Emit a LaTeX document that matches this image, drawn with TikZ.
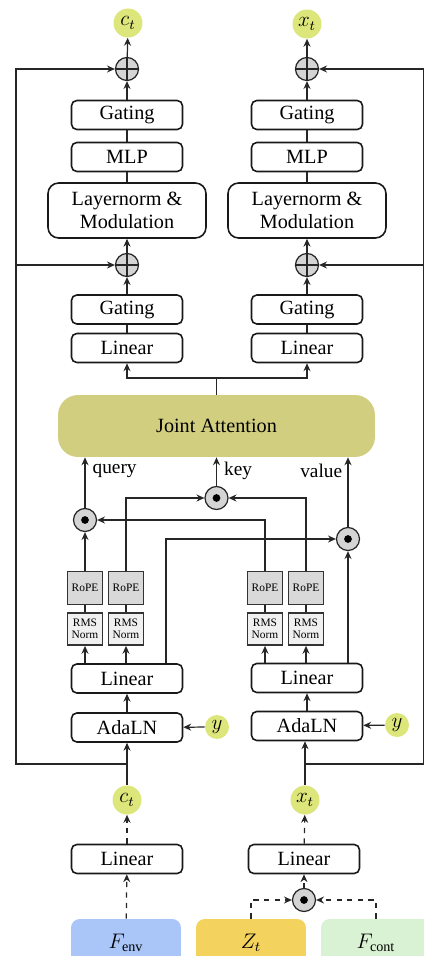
\documentclass[tikz,border=0pt]{standalone}
\usepackage{fontspec}
\setmainfont{Liberation Serif}
\usetikzlibrary{arrows.meta}

\definecolor{varcol}{HTML}{DCE67A}
\definecolor{attcol}{HTML}{D2CE7F}
\definecolor{envcol}{HTML}{AAC5F7}
\definecolor{ztcol}{HTML}{F3D35E}
\definecolor{contcol}{HTML}{D9F2D4}
\definecolor{opcol}{HTML}{D4D4D4}
\definecolor{ropecol}{HTML}{D9D9D9}
\definecolor{rmscol}{HTML}{F0F0F0}

\tikzset{
  arr/.style={-{Stealth[length=4.5pt,width=4pt,inset=1.5pt]}, line width=0.7pt, draw=black!85},
  darr/.style={arr, dashed},
  ln/.style={line width=0.7pt, draw=black!85},
  blk/.style={draw=black!90, line width=0.9pt, rounded corners=3pt, fill=white,
    minimum width=2.22cm, minimum height=0.58cm, inner sep=0pt,
    font=\fontsize{11.5}{13}\selectfont},
  wideblk/.style={blk, minimum width=3.16cm, minimum height=1.1cm, align=center,
    rounded corners=6pt},
  small/.style={draw=black!80, line width=1pt, inner sep=0pt, align=center,
    minimum width=0.7cm, font=\fontsize{6.5}{7}\selectfont},
  ropebox/.style={small, fill=ropecol, minimum height=0.66cm},
  rmsbox/.style={small, fill=rmscol, minimum height=0.64cm},
  var/.style={circle, fill=varcol, minimum size=0.58cm, inner sep=0pt,
    font=\fontsize{11.5}{13}\selectfont},
  yvar/.style={var, minimum size=0.48cm},
  oplus/.style={circle, draw=black!85, line width=0.7pt, fill=opcol,
    minimum size=0.46cm, inner sep=0pt,
    path picture={\draw[black!85, line width=0.7pt] (path picture bounding box.north) -- (path picture bounding box.south)
      (path picture bounding box.west) -- (path picture bounding box.east);}},
  odot/.style={circle, draw=black!85, line width=0.7pt, fill=opcol,
    minimum size=0.46cm, inner sep=0pt,
    path picture={\fill[black] (path picture bounding box.center) circle (2.2pt);}},
  inp/.style={rounded corners=5pt, minimum width=2.2cm, minimum height=0.94cm,
    inner sep=0pt, font=\fontsize{11.5}{13}\selectfont},
  lbl/.style={font=\fontsize{11}{13}\selectfont, inner sep=2pt}
}

\begin{document}
\begin{tikzpicture}[x=0.02cm,y=-0.02cm]
\useasboundingbox (0,0) rectangle (424,956);
\clip (0,0) rectangle (424,956);

% top part, c_t stream
\node[var] (ctop) at (128,23) {$c_t$};
\node[oplus] (addC1) at (127,69) {};
\node[blk] (gateC1) at (127,115) {Gating};
\node[blk] (mlpC) at (127,157) {MLP};
\node[wideblk] (lnC) at (127,210.5) {Layernorm \&\\Modulation};
\node[oplus] (addC2) at (127,265) {};
\node[blk] (gateC2) at (127,309.5) {Gating};
\node[blk] (linC2) at (127,348) {Linear};

% top part, x_t stream
\node[var] (xtop) at (307,24) {$x_t$};
\node[oplus] (addX1) at (307,69) {};
\node[blk] (gateX1) at (307,115) {Gating};
\node[blk] (mlpX) at (307,157) {MLP};
\node[wideblk] (lnX) at (307,210.5) {Layernorm \&\\Modulation};
\node[oplus] (addX2) at (307,265) {};
\node[blk] (gateX2) at (307,309.5) {Gating};
\node[blk] (linX2) at (307,348) {Linear};

\draw[arr] (gateC1) -- (addC1);
\draw[arr] (addC1) -- (ctop);
\draw[ln] (gateC1) -- (mlpC);
\draw[ln] (mlpC) -- (lnC);
\draw[arr] (addC2) -- (lnC);
\draw[arr] (gateC2) -- (addC2);
\draw[ln] (gateC2) -- (linC2);

\draw[arr] (gateX1) -- (addX1);
\draw[arr] (addX1) -- (xtop);
\draw[ln] (gateX1) -- (mlpX);
\draw[ln] (mlpX) -- (lnX);
\draw[arr] (addX2) -- (lnX);
\draw[arr] (gateX2) -- (addX2);
\draw[ln] (gateX2) -- (linX2);

% attention
\node[fill=attcol, rounded corners=0.4cm, minimum width=6.34cm, minimum height=1.24cm,
  font=\fontsize{11.5}{13}\selectfont] (attn) at (216.5,426) {Joint Attention};
\coordinate (br) at (216.5,378);
\draw[ln] (attn) -- (br);
\draw[arr] (br) -| (linC2);
\draw[arr] (br) -| (linX2);

% query, key, value
\node[odot] (q) at (85,520) {};
\node[odot] (k) at (216.5,498) {};
\node[odot] (v) at (348,539) {};
\draw[arr] (q) -- node[lbl, pos=0.74, right, xshift=2pt] {query} (q |- attn.south);
\draw[arr] (k) -- node[lbl, pos=0.52, right, xshift=2pt] {key} (k |- attn.south);
\draw[arr] (v) -- node[lbl, pos=0.8, left, xshift=-1pt] {value} (v |- attn.south);

% rope and rms norm
\node[ropebox] (ropeA) at (85,588) {RoPE};
\node[ropebox] (ropeB) at (126,588) {RoPE};
\node[ropebox] (ropeC) at (265,588) {RoPE};
\node[ropebox] (ropeD) at (306,588) {RoPE};
\node[rmsbox] (rmsA) at (85,629) {RMS\\Norm};
\node[rmsbox] (rmsB) at (126,629) {RMS\\Norm};
\node[rmsbox] (rmsC) at (265,629) {RMS\\Norm};
\node[rmsbox] (rmsD) at (306,629) {RMS\\Norm};
\draw[ln] (rmsA) -- (ropeA);
\draw[ln] (rmsB) -- (ropeB);
\draw[ln] (rmsC) -- (ropeC);
\draw[ln] (rmsD) -- (ropeD);

\draw[arr] (ropeA) -- (q);
\draw[arr] (ropeC) |- (q);
\draw[arr] (ropeB) |- (k);
\draw[arr] (ropeD) |- (k);

% linear and adaln
\node[blk] (linC) at (127,678.5) {Linear};
\node[blk] (linX) at (307,678) {Linear};
\node[blk] (adaC) at (127,727.5) {AdaLN};
\node[blk] (adaX) at (307,726) {AdaLN};
\node[yvar] (yC) at (217,727) {$y$};
\node[yvar] (yX) at (397,725) {$y$};
\coordinate (vtap) at (166,0);

\draw[arr] (linC.north -| rmsA) -- (rmsA);
\draw[arr] (linC.north -| rmsB) -- (rmsB);
\draw[arr] (linX.north -| rmsC) -- (rmsC);
\draw[arr] (linX.north -| rmsD) -- (rmsD);
\draw[arr] (linC.north -| vtap) |- (v);
\draw[arr] (linX.north -| v) -- (v);
\draw[arr] (adaC) -- (linC);
\draw[arr] (adaX) -- (linX);
\draw[arr] (yC) -- (adaC);
\draw[arr] (yX) -- (adaX);

% inputs
\node[var] (cin) at (127,800) {$c_t$};
\node[var] (xin) at (305,800) {$x_t$};
\node[blk] (embC) at (127,859) {Linear};
\node[blk] (embX) at (304,859) {Linear};
\node[odot] (mix) at (304,900) {};
\node[inp, fill=envcol] (fenv) at (126,942.5) {$F_{\mathrm{env}}$};
\node[inp, fill=ztcol] (zt) at (251,942.5) {$Z_t$};
\node[inp, fill=contcol] (fcont) at (376,942.5) {$F_{\mathrm{cont}}$};

\draw[darr] (fenv) -- (embC);
\draw[darr] (embC) -- (cin);
\draw[darr] (zt) |- (mix);
\draw[darr] (fcont) |- (mix);
\draw[darr] (mix) -- (embX);
\draw[darr] (embX) -- (xin);

% residual paths
\coordinate (lc) at (127,764);
\coordinate (lx) at (305,764);
\coordinate (lcorner) at (16,764);
\coordinate (rcorner) at (423.5,764);
\draw[arr] (cin) -- (adaC);
\draw[arr] (xin) -- (adaX.south -| xin);
\draw[arr] (lc) -- (lcorner) |- (addC1);
\draw[arr] (lcorner |- addC2) -- (addC2);
\draw[arr] (lx) -- (rcorner) |- (addX1);
\draw[arr] (rcorner |- addX2) -- (addX2);
\end{tikzpicture}
\end{document}
